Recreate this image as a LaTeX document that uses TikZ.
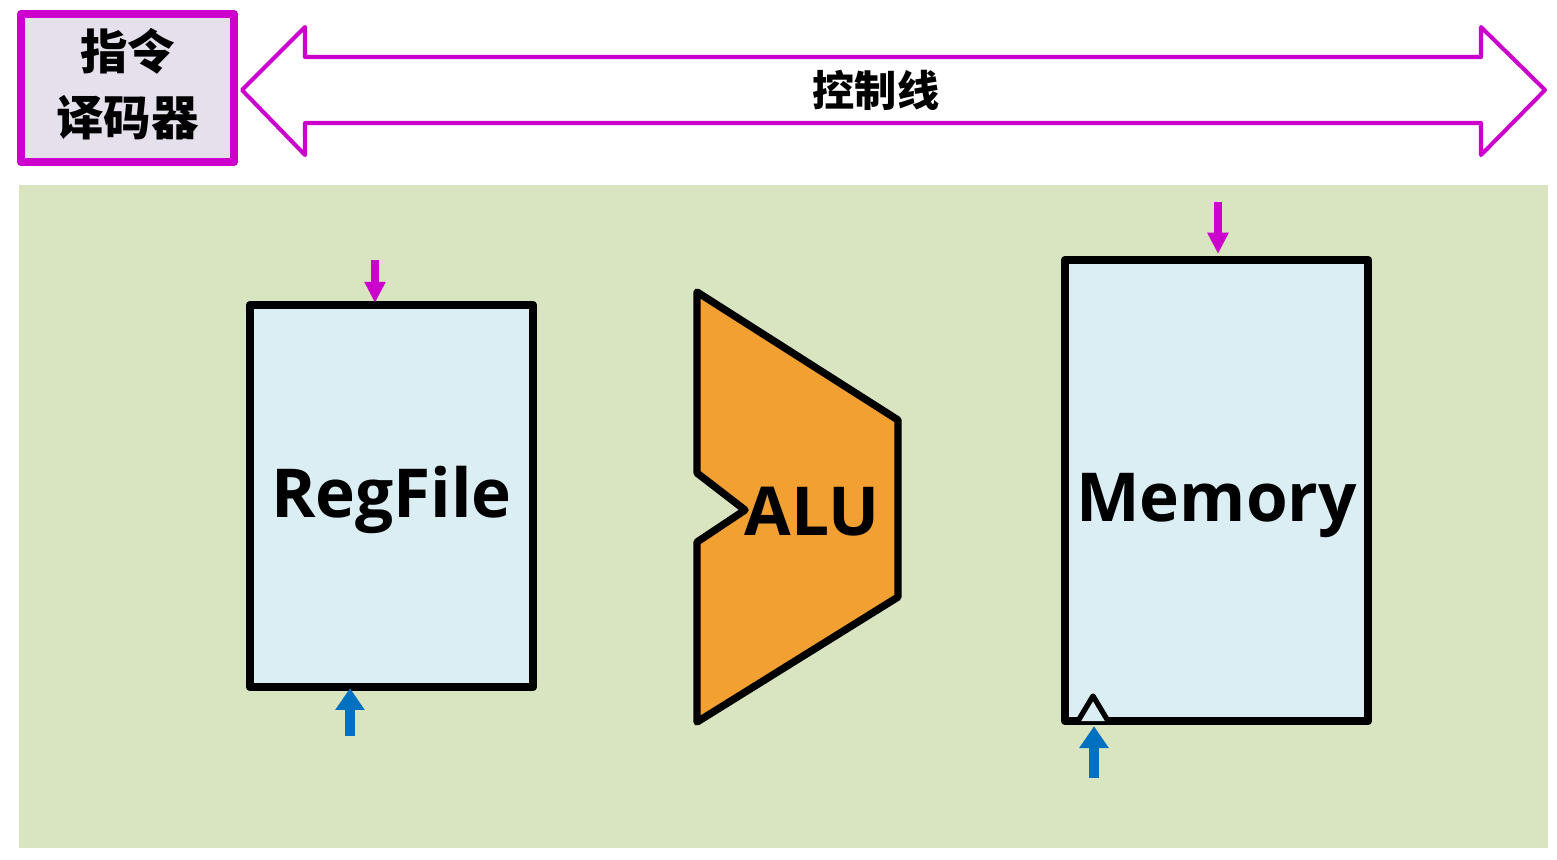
\documentclass[tikz,border=0pt]{standalone}
\usepackage{fontspec}
\usepackage{xcolor}
\usepackage{tikz}
\usetikzlibrary{arrows.meta,positioning,calc}
\setmainfont{Open Sans}
\newfontfamily\cjk{Noto Sans CJK SC}
\definecolor{cpu@magenta}{RGB}{204,0,204}
\definecolor{cpu@lilac}{RGB}{230,224,236}
\definecolor{cpu@green}{RGB}{217,229,192}
\definecolor{cpu@sky}{RGB}{218,238,243}
\definecolor{cpu@orange}{RGB}{242,160,50}
\definecolor{cpu@blue}{RGB}{0,112,192}
\tikzset{
  datapath/.style={
    x=0.01cm, y=-0.01cm,
    line join=round,
    every node/.style={inner sep=0pt}
  },
  unit/.style={                    % storage block
    draw=black, line width=2.3pt,
    fill=cpu@sky
  },
  unitlabel/.style={font=\fontsize{19.2}{23}\selectfont\bfseries},
  ctlarrow/.style={                % control signal into a unit
    -{Triangle[length=6pt,width=5.7pt]},
    line width=2.3pt, draw=cpu@magenta
  },
  dataarrow/.style={               % data input of a unit
    -{Triangle[length=6.2pt,width=8pt]},
    line width=2.85pt, draw=cpu@blue
  }
}

\begin{document}
\begin{tikzpicture}[datapath]
\useasboundingbox (0,0) rectangle (1557,859);
% Datapath background
\fill[cpu@green] (19,185) rectangle (1548,848);

% Instruction decoder
\node[
  draw=cpu@magenta, line width=2.3pt,
  fill=cpu@lilac,
  minimum width=2.13cm, minimum height=1.48cm,
  align=center,
  font=\cjk\bfseries\fontsize{13.5}{18.8}\selectfont
] (decoder) at (127.5,88) {};
\node[align=center, font=\cjk\bfseries\fontsize{13.5}{18.8}\selectfont]
  (decoderlbl) at ($(decoder.center)+(0,-4)$) {指令\\译码器};

% Control lines (double arrow)
\draw[cpu@magenta, line width=1.15pt, fill=white]
  (242,90) -- (305,27) -- (305,57) -- (1481,57) -- (1481,27) -- (1545,90)
  -- (1481,155) -- (1481,123) -- (305,123) -- (305,155) -- cycle;
\node[font=\cjk\bfseries\fontsize{12}{14}\selectfont] (ctlbus) at (876,90) {控制线};

% Register file
\node[unit, minimum width=2.83cm, minimum height=3.82cm] (regfile) at (391.5,496) {};
\node[unitlabel] (regfilelbl) at ($(regfile.center)+(0,4)$) {RegFile};

% ALU
\coordinate (alu tl) at (697,292);
\coordinate (alu tr) at (898,420);
\coordinate (alu br) at (898,597);
\coordinate (alu bl) at (697,722);
\draw[line width=2.1pt, fill=cpu@orange]
  (alu tl) -- (alu tr) -- (alu br) -- (alu bl) -- (697,542) -- (745,510)
  -- (697,473) -- cycle;
\node[unitlabel] (alulbl) at (812,512) {ALU};

% Memory
\node[unit, minimum width=3.03cm, minimum height=4.61cm] (mem) at (1216.5,490.5) {};
\node[unitlabel] (memlbl) at ($(mem.center)+(0,15)$) {Memory};
% clock input
\draw[line width=1.5pt, fill=cpu@sky] (1078,721) -- (1093,696) -- (1108,721);

% Control and data arrows
\coordinate (regfile ctl) at (375,260);
\coordinate (regfile in) at (350,736);
\coordinate (mem ctl) at (1218,202);
\coordinate (mem in) at (1094,778);
\draw[ctlarrow] (regfile ctl) -- ($(regfile ctl |- regfile.north)+(0,2)$);
\draw[dataarrow] (regfile in) -- ($(regfile in |- regfile.south)+(0,-3)$);
\draw[ctlarrow] (mem ctl) -- ($(mem ctl |- mem.north)+(0,-2)$);
\draw[dataarrow] (mem in) -- ($(mem in |- mem.south)+(0,1)$);
\end{tikzpicture}
\end{document}
